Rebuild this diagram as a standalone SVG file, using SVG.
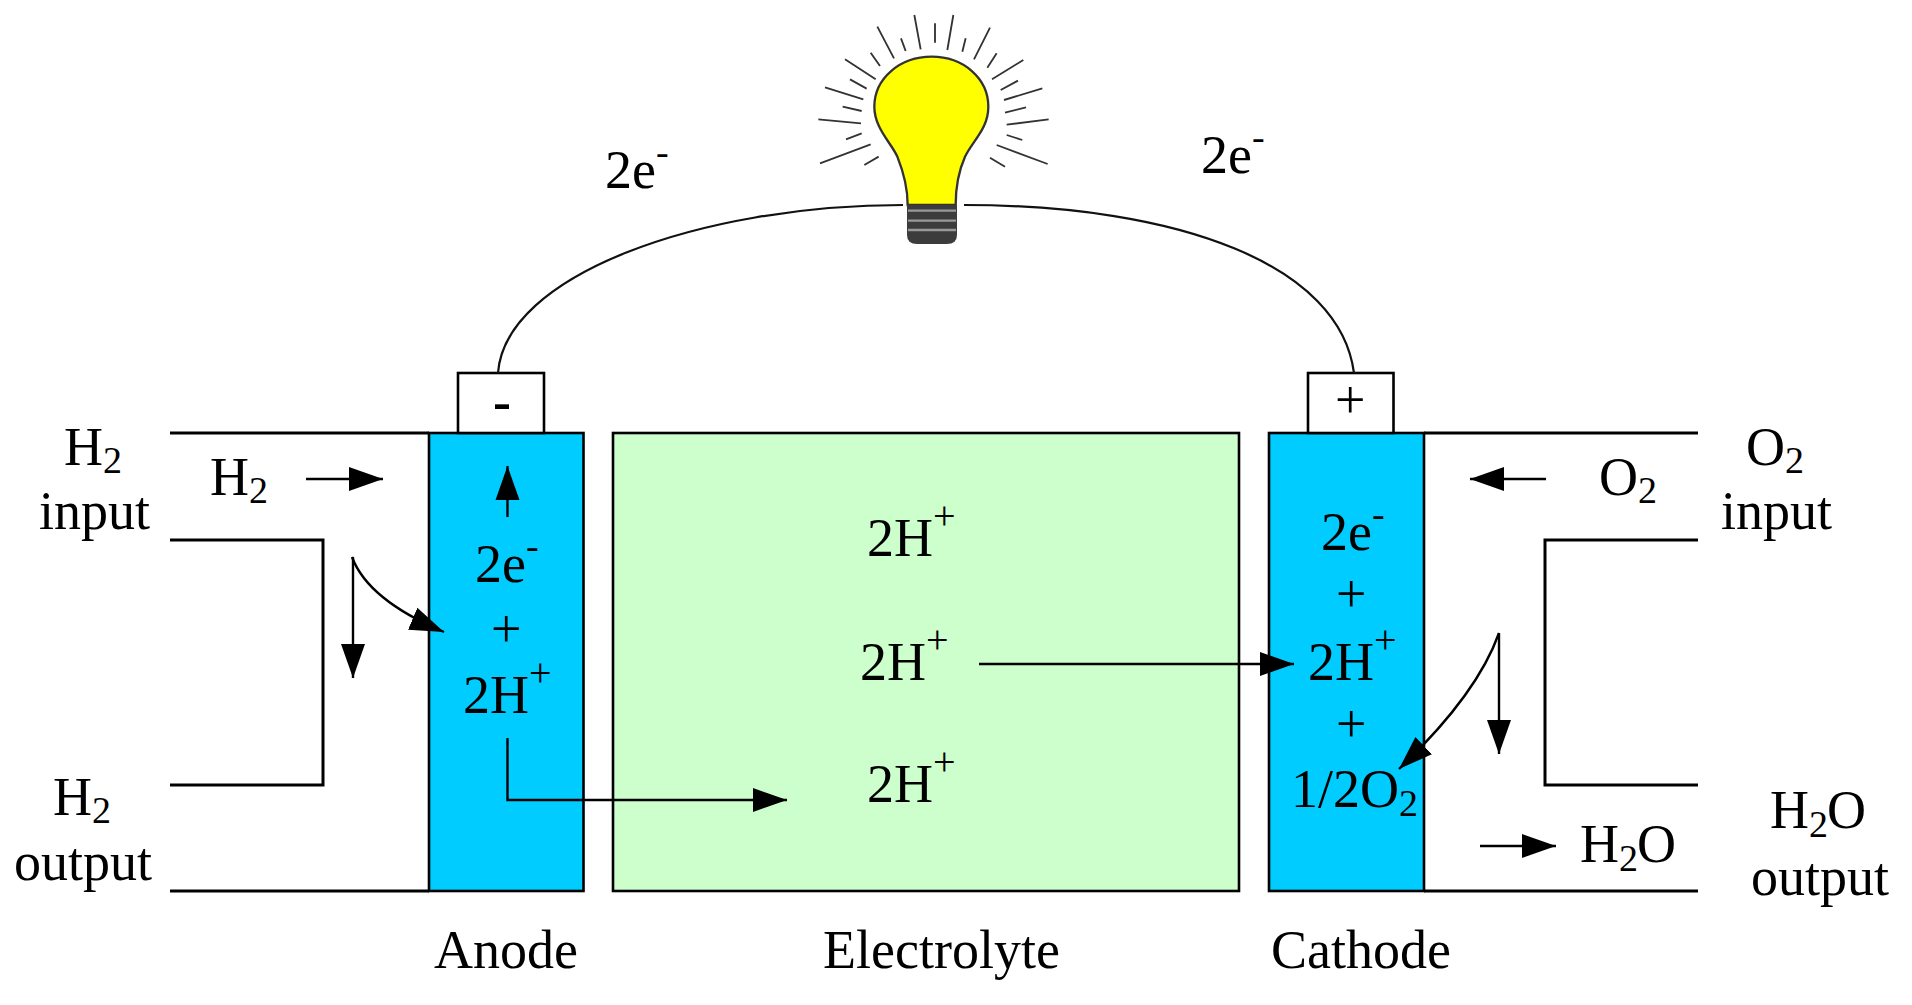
<svg xmlns="http://www.w3.org/2000/svg" width="1912" height="1005" viewBox="0 0 1912 1005">
<style>
text{font-family:"Liberation Serif","Times New Roman",serif;font-size:54px;fill:#000}
.s{font-size:38px}
.p{font-size:40px}
.box{stroke:#000;stroke-width:2.6}
.el{fill:#00ccff}
.ch{fill:none;stroke:#000;stroke-width:3}
.ar{fill:none;stroke:#000;stroke-width:2.4;marker-end:url(#head)}
.wire{fill:none;stroke:#111;stroke-width:2.2}
.ray{stroke:#333;stroke-width:5.5;stroke-linecap:butt;fill:none}
</style>
<defs>
<marker id="head" markerUnits="userSpaceOnUse" markerWidth="36" markerHeight="26" viewBox="0 0 36 26" refX="34" refY="13" orient="auto">
<path d="M0 1L34 13L0 25Z" fill="#000"/>
</marker>
</defs>
<rect width="1912" height="1005" fill="#fff"/>

<g id="channels">
<path class="ch" d="M170 433H429M170 540H323V785H170M170 891H429"/>
<path class="ch" d="M1424 433H1698M1698 540H1545V785H1698M1424 891H1698"/>
</g>

<g id="anode">
<rect class="box el" x="429" y="433" width="154.500" height="458"/>
<text x="475" y="582">2e<tspan class="s" dy="-23">-</tspan></text>
<text x="491" y="647">+</text>
<text x="463" y="713">2H<tspan class="p" dy="-27">+</tspan></text>
<text x="434" y="968">Anode</text>
</g>
<g id="anode-terminal">
<rect class="box" x="458" y="373" width="86" height="60" fill="#fff"/>
<text x="493" y="420" style="font-weight:bold">-</text>
</g>

<g id="electrolyte">
<rect class="box" x="613" y="433" width="626" height="458" fill="#ccffcc"/>
<text x="867" y="556">2H<tspan class="p" dy="-27">+</tspan></text>
<text x="860" y="680">2H<tspan class="p" dy="-27">+</tspan></text>
<text x="867" y="802">2H<tspan class="p" dy="-27">+</tspan></text>
<text x="823" y="968">Electrolyte</text>
</g>

<g id="cathode">
<rect class="box el" x="1269" y="433" width="155" height="458"/>
<text x="1321" y="550">2e<tspan class="s" dy="-23">-</tspan></text>
<text x="1336" y="612">+</text>
<text x="1308" y="680">2H<tspan class="p" dy="-27">+</tspan></text>
<text x="1336" y="742">+</text>
<text x="1291" y="807">1/2O<tspan class="s" dy="9">2</tspan></text>
<text x="1271" y="968">Cathode</text>
</g>
<g id="cathode-terminal">
<rect class="box" x="1308" y="373" width="85.500" height="60" fill="#fff"/>
<text x="1335" y="418">+</text>
</g>

<g id="h2-input">
<text x="64" y="465">H<tspan class="s" dy="8">2</tspan></text>
<text x="39" y="529">input</text>
</g>
<g id="h2-flow"><text x="210" y="495">H<tspan class="s" dy="8">2</tspan></text></g>
<g id="h2-output">
<text x="53" y="815">H<tspan class="s" dy="8">2</tspan></text>
<text x="14" y="880">output</text>
</g>
<g id="o2-input">
<text x="1746" y="465">O<tspan class="s" dy="8">2</tspan></text>
<text x="1721" y="529">input</text>
</g>
<g id="o2-flow"><text x="1599" y="495">O<tspan class="s" dy="8">2</tspan></text></g>
<g id="h2o-flow"><text x="1580" y="862">H<tspan class="s" dy="9">2</tspan><tspan dy="-9" dx="-1">O</tspan></text></g>
<g id="h2o-output">
<text x="1770" y="828">H<tspan class="s" dy="9">2</tspan><tspan dy="-9" dx="-1">O</tspan></text>
<text x="1751" y="895">output</text>
</g>
<g id="electron-left"><text x="605" y="188">2e<tspan class="s" dy="-23">-</tspan></text></g>
<g id="electron-right"><text x="1201" y="173">2e<tspan class="s" dy="-23">-</tspan></text></g>

<g id="connectors">
<path class="wire" d="M498 373C505 275 700 205 903 205"/>
<path class="wire" d="M964 205C1180 205 1340 265 1354 373"/>
<path class="ar" d="M306 479H383"/>
<path class="ar" d="M507.500 517V466"/>
<path class="ar" d="M353 557V678"/>
<path class="ar" d="M352 557Q368 600 444 632"/>
<path class="ar" d="M507.500 738V800H787"/>
<path class="ar" d="M979 664H1294"/>
<path class="ar" d="M1546 479H1470"/>
<path class="ar" d="M1499 633V754"/>
<path class="ar" d="M1499 633Q1477 695 1399 769"/>
<path class="ar" d="M1480 846H1556"/>
</g>

<g id="bulb" transform="translate(780 0) scale(.33333)">
<path d="M383 615C383 560 372 520 352 470C335 430 283 385 283 320C283 235 360 170 455 170C550 170 625 235 625 320C625 385 580 420 555 470C535 515 527 555 527 615Z" fill="#ff0" stroke="#333" stroke-width="7"/>
<path d="M381 615H531V705Q531 732 500 732H412Q381 732 381 705Z" fill="#3c3c3c"/>
<path d="M384 632H528M384 662H528M384 690H528" stroke="#999" stroke-width="7" fill="none"/>
<path class="ray" d="M403 45L422 148M465 70V128M520 45L502 150M363 115L377 153M557 115L547 155M292 80L342 175M630 83L582 178M272 158L300 198M650 160L622 203M195 178L287 238M730 180L636 238M210 238L260 266M714 242L662 270M135 262L250 298M787 265L672 300M188 320L245 333M738 322L675 338M115 358L243 370M806 358L680 374M198 418L245 400M680 405L727 420M120 490L272 433M650 435L803 492M253 495L296 470M630 473L675 500"/>
</g>
</svg>
